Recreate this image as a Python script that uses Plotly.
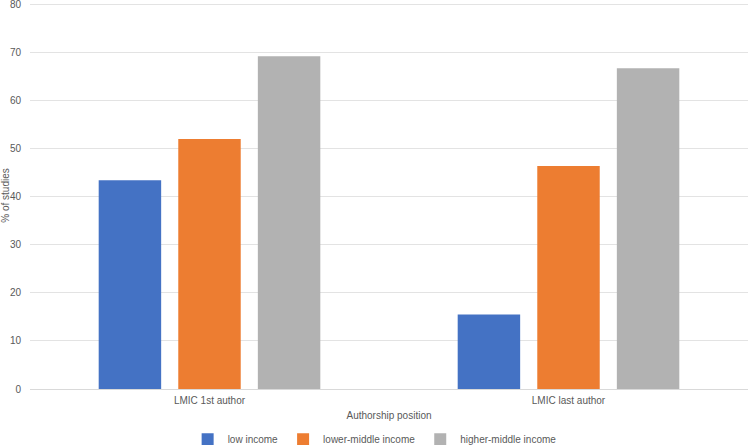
import plotly.graph_objects as go

# authorship positions on the x axis
positions = ["LMIC 1st author", "LMIC last author"]

# % of studies per income group
low_income = [43.4, 15.5]
lower_middle_income = [52.0, 46.4]
higher_middle_income = [69.2, 66.7]

y_ticks = [0, 10, 20, 30, 40, 50, 60, 70, 80]

series = [
    ("low income", low_income, "#4472C4"),
    ("lower-middle income", lower_middle_income, "#ED7D31"),
    ("higher-middle income", higher_middle_income, "#B2B2B2"),
]

fig = go.Figure()
for name, values, color in series:
    fig.add_trace(
        go.Bar(
            x=positions,
            y=values,
            name=name,
            marker_color=color,
            marker_line_width=0,
        )
    )

fig.update_layout(
    width=749,
    height=445,
    margin=dict(l=30, r=1, t=2, b=56, autoexpand=False),
    paper_bgcolor="white",
    plot_bgcolor="white",
    font=dict(family="Liberation Sans, Arial, sans-serif", size=10, color="#595959"),
    barmode="group",
    bargap=0.335,
    bargroupgap=0.215,
    showlegend=True,
    legend=dict(
        orientation="h",
        x=0.48,
        xanchor="center",
        y=-0.13,
        yanchor="middle",
        font=dict(size=10, color="#595959"),
        itemwidth=30,
        tracegroupgap=0,
    ),
)

# range runs a little past 80 so the top gridline is not clipped away
fig.update_yaxes(
    range=[0, 80.5],
    tickvals=y_ticks,
    automargin=False,
    ticklabeloverflow="allow",
    showgrid=True,
    gridcolor="#E3E3E3",
    gridwidth=1,
    zeroline=True,
    zerolinecolor="#D9D9D9",
    zerolinewidth=1,
    ticks="",
    ticklabelstandoff=8,
    title=dict(text="% of studies", standoff=8, font=dict(size=10)),
)

fig.update_xaxes(
    automargin=False,
    showgrid=False,
    showline=False,
    ticks="",
    ticklabelstandoff=4,
    title=dict(text="Authorship position", standoff=6, font=dict(size=10)),
)

# page body has a default 8px margin; drop it so the figure sits at the corner
fig.write_html(
    "out.html",
    config={"displayModeBar": False},
    post_script="document.body.style.margin = '0px';",
)
